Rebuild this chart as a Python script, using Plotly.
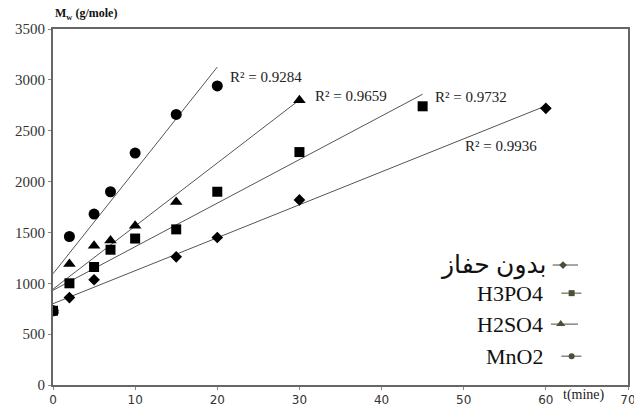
import numpy as np
import plotly.graph_objects as go

# ---- data ----
series_names = ["بدون حفاز", "H3PO4", "H2SO4", "MnO2"]
t_none = [0, 2, 5, 15, 20, 30, 60]
mw_none = [730, 860, 1035, 1260, 1450, 1820, 2720]
t_h3po4 = [0, 2, 5, 7, 10, 15, 20, 30, 45]
mw_h3po4 = [730, 1000, 1160, 1330, 1440, 1530, 1900, 2290, 2740]
t_h2so4 = [0, 2, 5, 7, 10, 15, 30]
mw_h2so4 = [730, 1190, 1370, 1420, 1565, 1800, 2800]
t_mno2 = [0, 2, 5, 7, 10, 15, 20]
mw_mno2 = [730, 1460, 1680, 1900, 2280, 2660, 2940]
r2_labels = ["R² = 0.9936", "R² = 0.9732", "R² = 0.9659", "R² = 0.9284"]
x_ticks = [0, 10, 20, 30, 40, 50, 60, 70]
y_ticks = [0, 500, 1000, 1500, 2000, 2500, 3000, 3500]

symbols = ["diamond", "square", "triangle-up", "circle"]
sizes = [9, 10, 11, 11]
data = [(t_none, mw_none), (t_h3po4, mw_h3po4), (t_h2so4, mw_h2so4), (t_mno2, mw_mno2)]
# label positions (data coords, left-anchored)
r2_pos = [(49.9, 2350), (46.2, 2830), (31.7, 2840), (21.3, 3030)]

fig = go.Figure()

# trendlines
for (x, y) in data:
    a, b = np.polyfit(x, y, 1)
    xs = np.array([min(x), max(x)])
    fig.add_trace(go.Scatter(x=xs, y=a * xs + b, mode="lines",
                             line=dict(color="#555555", width=1),
                             showlegend=False, hoverinfo="skip"))

# markers (draw H3PO4 last so its square sits on top at t=0)
order = [0, 2, 3, 1]
for i in order:
    x, y = data[i]
    fig.add_trace(go.Scatter(x=x, y=y, mode="markers", name=series_names[i],
                             marker=dict(symbol=symbols[i], size=sizes[i], color="black"),
                             showlegend=False))

for lab, (px, py) in zip(r2_labels, r2_pos):
    fig.add_annotation(x=px, y=py, text=lab, showarrow=False, xanchor="left", yanchor="middle",
                       font=dict(family="Liberation Serif", size=15, color="#222"))

# custom legend (text left, symbol right); positions are fractions of the plot area
leg_y = [0.337, 0.258, 0.171, 0.081]
leg_sym_x = [(0.869, 0.887, 0.913), (0.884, 0.902, 0.919), (0.866, 0.883, 0.913), (0.884, 0.902, 0.919)]
leg_text_x = [0.862, 0.856, 0.856, 0.856]
leg_size = [25, 22, 22, 22]
leg_msize = [6, 6, 8, 6]
for k in range(4):
    fig.add_annotation(xref="paper", yref="paper", x=leg_text_x[k], y=leg_y[k], text=series_names[k],
                       showarrow=False, xanchor="right", yanchor="middle",
                       font=dict(family="Liberation Serif, DejaVu Sans", size=leg_size[k], color="#111"))
    x0, xm, x1 = leg_sym_x[k]
    fig.add_trace(go.Scatter(x=[x0, xm, x1], y=[leg_y[k]] * 3, mode="lines", xaxis="x2", yaxis="y2",
                             line=dict(color="#4a4f3a", width=1), showlegend=False, hoverinfo="skip"))
    fig.add_trace(go.Scatter(x=[xm], y=[leg_y[k]], mode="markers", xaxis="x2", yaxis="y2",
                             marker=dict(symbol=symbols[k], size=leg_msize[k], color="#4a4f3a"),
                             showlegend=False, hoverinfo="skip"))

fig.add_annotation(xref="paper", yref="paper", x=0.0, y=1.0, yshift=5, xanchor="left", yanchor="bottom",
                   text="<b>M<sub>w</sub> (g/mole)</b>", showarrow=False,
                   font=dict(family="Liberation Serif", size=12, color="#111"))
fig.add_annotation(xref="paper", yref="paper", x=0.924, y=-0.028, xanchor="center", yanchor="middle",
                   text="t(mine)", showarrow=False,
                   font=dict(family="Liberation Serif", size=14, color="#222"))

fig.update_layout(
    width=634, height=414,
    margin=dict(l=53, r=6, t=29, b=29),
    paper_bgcolor="white", plot_bgcolor="white",
    showlegend=False,
    xaxis=dict(range=[0, 70], tickvals=x_ticks, showgrid=False, zeroline=False, automargin=False,
               ticklabeloverflow="allow",
               showline=True, linecolor="#666", linewidth=2, mirror=True,
               ticks="outside", ticklen=3, tickcolor="#888",
               tickfont=dict(family="DejaVu Sans", size=12, color="#333")),
    yaxis=dict(range=[0, 3500], tickvals=y_ticks, showgrid=False, zeroline=False, automargin=False,
               ticklabeloverflow="allow",
               showline=True, linecolor="#666", linewidth=2, mirror=True,
               ticks="outside", ticklen=3, tickcolor="#888",
               tickfont=dict(family="Liberation Serif", size=15, color="#333")),
    xaxis2=dict(range=[0, 1], overlaying="x", visible=False, fixedrange=True),
    yaxis2=dict(range=[0, 1], overlaying="y", visible=False, fixedrange=True),
)

fig.write_html("out.html", config={"displayModeBar": False},
               post_script="document.body.style.margin='0px';")
